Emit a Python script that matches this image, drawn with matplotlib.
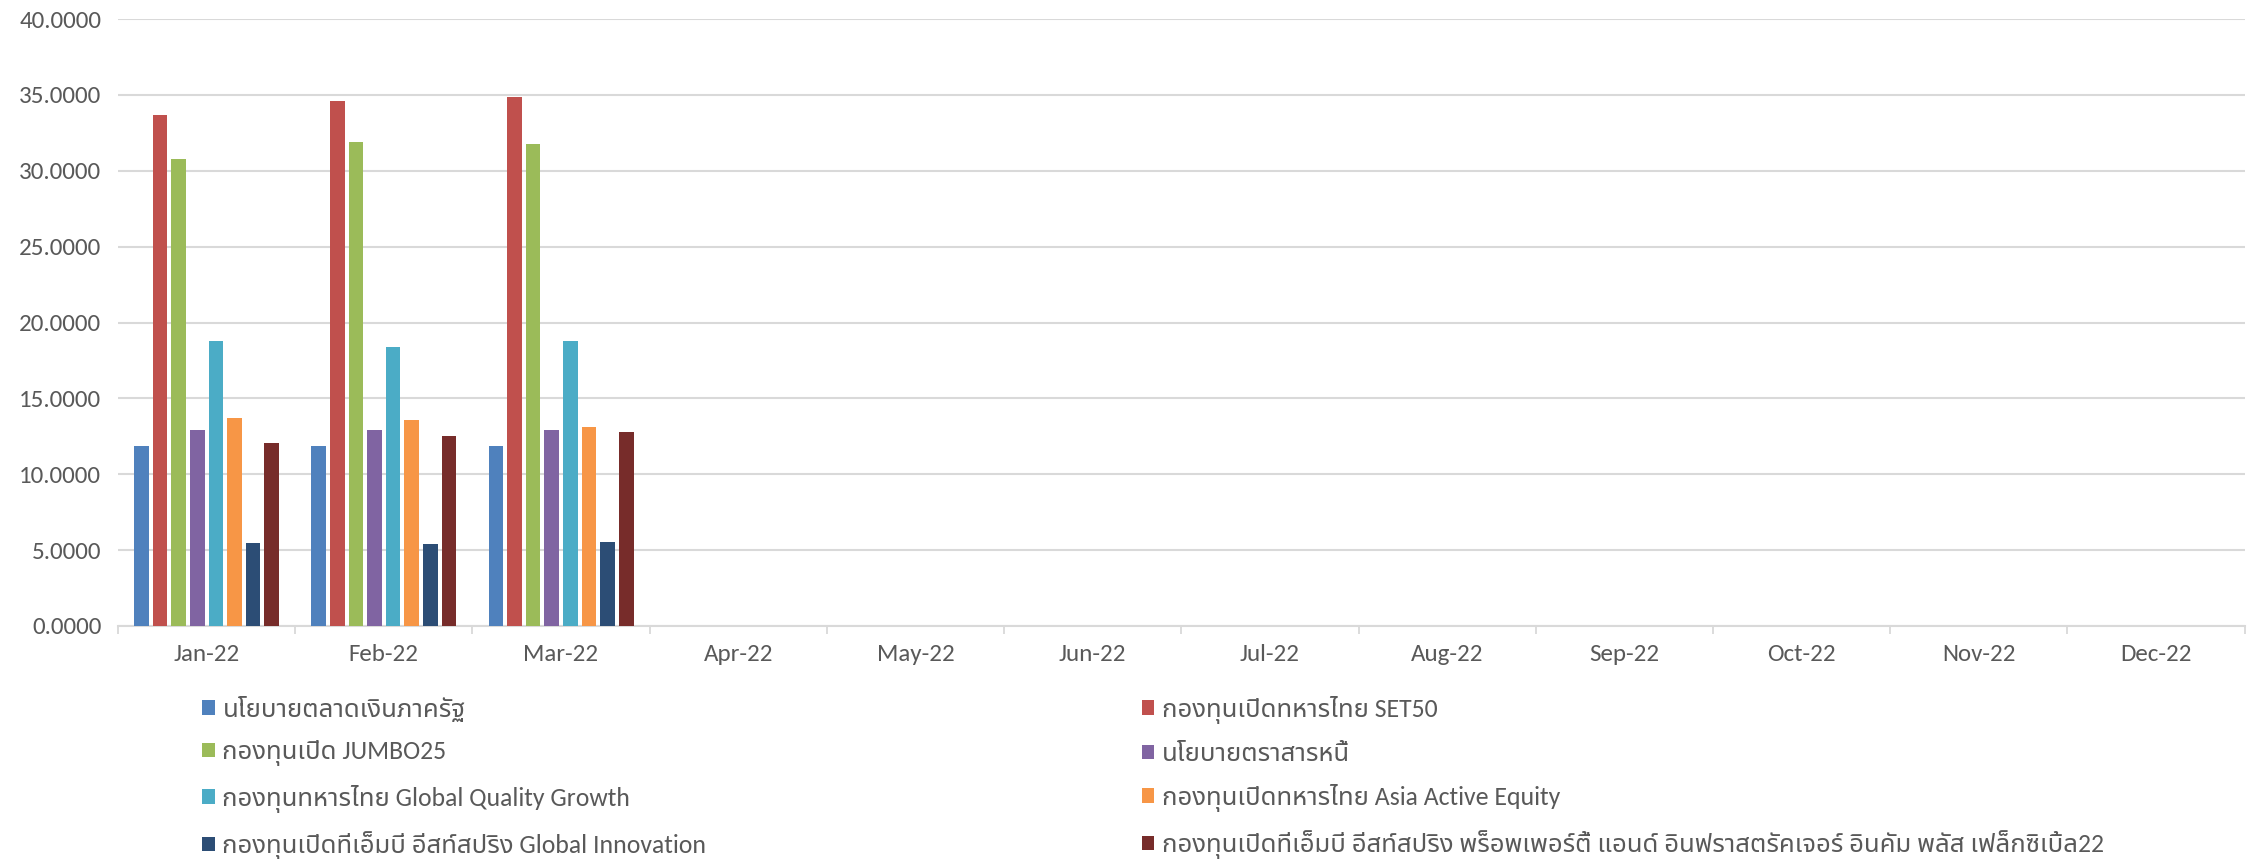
import numpy as np
import matplotlib
matplotlib.use("Agg")
import matplotlib.pyplot as plt
from matplotlib.patches import Patch
import logging

logging.getLogger("matplotlib.font_manager").setLevel(logging.ERROR)

months = ["Jan-22", "Feb-22", "Mar-22", "Apr-22", "May-22", "Jun-22",
          "Jul-22", "Aug-22", "Sep-22", "Oct-22", "Nov-22", "Dec-22"]

fund_names = [
    "นโยบายตลาดเงินภาครัฐ",
    "กองทุนเปิดทหารไทย SET50",
    "กองทุนเปิด JUMBO25",
    "นโยบายตราสารหนี้",
    "กองทุนทหารไทย Global Quality Growth",
    "กองทุนเปิดทหารไทย Asia Active Equity",
    "กองทุนเปิดทีเอ็มบี อีสท์สปริง Global Innovation",
    "กองทุนเปิดทีเอ็มบี อีสท์สปริง พร็อพเพอร์ตี้ แอนด์ อินฟราสตรัคเจอร์ อินคัม พลัส เฟล็กซิเบิ้ล22",
]

# only Jan-Mar have values, the rest of the year is empty
money_market = [11.87, 11.87, 11.89]
set50 = [33.68, 34.61, 34.87]
jumbo25 = [30.75, 31.93, 31.75]
fixed_income = [12.90, 12.90, 12.90]
global_quality = [18.75, 18.37, 18.75]
asia_active = [13.71, 13.58, 13.12]
global_innov = [5.49, 5.38, 5.54]
property_infra = [12.07, 12.55, 12.79]

series = [money_market, set50, jumbo25, fixed_income,
          global_quality, asia_active, global_innov, property_infra]
colors = ["#4F81BD", "#C0504D", "#9BBB59", "#8064A2",
          "#4BACC6", "#F79646", "#2C4D75", "#772C2A"]

yticks = [0, 5, 10, 15, 20, 25, 30, 35, 40]

fonts = ["Carlito", "Noto Sans Thai", "Sarabun", "DejaVu Sans"]
plt.rcParams["font.family"] = fonts
txt = "#595959"

fig = plt.figure(figsize=(22.56, 8.59), dpi=100)
ax = fig.add_axes([0.0523, 0.2713, 0.9427, 0.7065])

x = np.arange(len(months))
step = 0.105
w = 0.083
for j, vals in enumerate(series):
    full = np.full(len(months), np.nan)
    full[:len(vals)] = vals
    ax.bar(x + (j - 3.5) * step, full, width=w, color=colors[j], linewidth=0, zorder=3)

ax.set_xlim(-0.5, len(months) - 0.5)
ax.set_ylim(0, 40)
ax.set_yticks(yticks)
ax.set_yticklabels(["%.4f" % v for v in yticks])
ax.set_xticks(x)
ax.set_xticklabels(months)
ax.set_xticks(np.arange(len(months) + 1) - 0.5, minor=True)
ax.tick_params(axis="x", which="major", length=0, pad=13, labelsize=18, labelcolor=txt)
ax.tick_params(axis="x", which="minor", length=6, width=1.3, color="#D9D9D9")
ax.tick_params(axis="y", length=0, pad=12, labelsize=18, labelcolor=txt)

ax.grid(axis="y", color="#D9D9D9", linewidth=1.5, zorder=0)
for s in ["top", "right", "left"]:
    ax.spines[s].set_visible(False)
ax.spines["bottom"].set_color("#D9D9D9")
ax.spines["bottom"].set_linewidth(1.5)

handles = [Patch(facecolor=c, edgecolor="none") for c in colors]
for col, xpos in enumerate([0.0895, 0.506]):
    idx = [col, col + 2, col + 4, col + 6]
    leg = fig.legend([handles[i] for i in idx], [fund_names[i] for i in idx],
                     loc="upper left", bbox_to_anchor=(xpos, 0.19),
                     frameon=False, fontsize=18.5, handlelength=0.5, handleheight=0.5,
                     handletextpad=0.3, labelspacing=0.72, borderpad=0, borderaxespad=0)
    for t in leg.get_texts():
        t.set_color(txt)

fig.savefig("out.png", dpi=100)
